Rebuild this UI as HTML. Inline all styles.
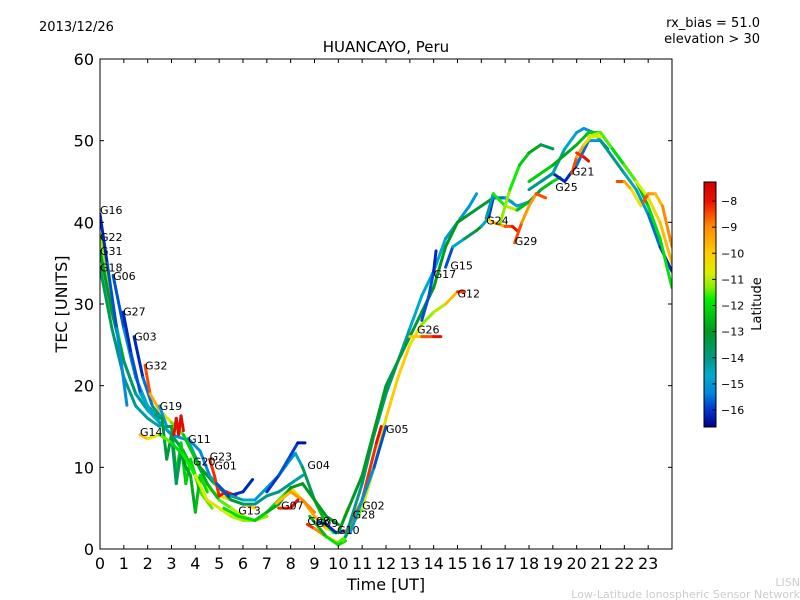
<!DOCTYPE html>
<html><head><meta charset="utf-8"><style>
html,body{margin:0;padding:0;background:#fff;width:800px;height:600px;overflow:hidden}
svg{font-family:"DejaVu Sans","Liberation Sans",sans-serif}
</style></head><body>
<svg id="chart" width="800" height="600" viewBox="0 0 800 600" xmlns="http://www.w3.org/2000/svg">
<defs>
<linearGradient id="cbar" x1="0" y1="1" x2="0" y2="0">
<stop offset="0" stop-color="#000088"/><stop offset="0.07" stop-color="#0033cc"/><stop offset="0.14" stop-color="#0088dd"/><stop offset="0.21" stop-color="#00aacc"/><stop offset="0.28" stop-color="#009988"/><stop offset="0.39" stop-color="#009922"/><stop offset="0.52" stop-color="#00ee00"/><stop offset="0.57" stop-color="#88ee00"/><stop offset="0.63" stop-color="#ddee00"/><stop offset="0.71" stop-color="#ffcc00"/><stop offset="0.82" stop-color="#ff8800"/><stop offset="0.92" stop-color="#ee1100"/><stop offset="1" stop-color="#cc0000"/>
</linearGradient>
<clipPath id="pclip"><rect x="100" y="59" width="572" height="490"/></clipPath>
</defs>
<text x="39" y="31" font-size="13">2013/12/26</text>
<text x="760" y="27" font-size="13" text-anchor="end">rx_bias = 51.0</text>
<text x="760" y="43" font-size="13" text-anchor="end">elevation &gt; 30</text>
<text x="386" y="52" font-size="15" text-anchor="middle">HUANCAYO, Peru</text>
<g id="tracks" clip-path="url(#pclip)"></g>
<g id="labels"></g>
<rect x="100" y="59" width="572" height="490" fill="none" stroke="#000" stroke-width="1"/>
<g id="axes"></g>
<text x="386" y="590" font-size="16" text-anchor="middle">Time [UT]</text>
<text transform="translate(67,304) rotate(-90)" font-size="16" text-anchor="middle">TEC [UNITS]</text>
<rect x="704" y="182" width="12" height="245" fill="url(#cbar)" stroke="#000" stroke-width="1"/>
<g id="cbticks"></g>
<text transform="translate(761,304) rotate(-90)" font-size="13" text-anchor="middle">Latitude</text>
<text x="800" y="586" font-size="11" fill="#cccccc" text-anchor="end">LISN</text>
<text x="800" y="598" font-size="11" fill="#cccccc" text-anchor="end">Low-Latitude Ionospheric Sensor Network</text>
</svg>
<script>
const xTicks=[0,1,2,3,4,5,6,7,8,9,10,11,12,13,14,15,16,17,18,19,20,21,22,23];
const yTicks=[0,10,20,30,40,50,60];
const cbTicks=[-8,-9,-10,-11,-12,-13,-14,-15,-16];
// each track: [time UT, TEC, latitude]
const trG16=[[0,41,-16.3],[0.3,35,-16],[0.7,27,-15.5],[1.13,17.6,-15]];
const trG22=[[0,38.5,-11],[0.5,30,-11.5],[1,23,-12],[1.5,19,-12.5],[2,17,-13],[2.5,15.5,-13.5],[3,14,-14],[3.5,12,-13],[4,9,-12],[4.5,7.5,-11],[5,6.5,-10.5],[6,5.5,-10],[6.5,5,-10]];
const trG31=[[0,36.5,-13],[0.5,29,-13],[1,23,-13.5],[1.5,19,-14],[2,17,-14.5],[2.5,15.5,-15],[3,14,-15],[3.7,13.3,-15],[4.2,10,-14],[4.8,8,-12],[5.5,6.5,-11.5],[6,6,-11]];
const trG18=[[0,34.5,-13.5],[0.5,27,-13.5],[1,21,-14],[1.5,17.5,-14],[2,16,-14.5],[2.5,15,-14]];
const trG06=[[0.55,33.5,-16],[1,27,-15.5],[1.5,21,-15],[2,17.5,-14.5],[2.5,16,-13.5]];
const trG27=[[0.97,29,-16.3],[1.3,24,-16],[1.7,19,-15.5],[2.2,16.5,-14]];
const trG03=[[1.43,26,-16.3],[1.8,21,-16],[2.2,17.5,-15],[2.6,16,-13]];
const trG32=[[1.89,22.5,-8],[2.1,19,-9],[2.5,17,-10],[3,15.5,-11],[3.5,14,-12],[4,11,-12.5],[4.5,8,-13],[5,6,-12],[5.5,5,-11],[6,4,-11],[6.5,3.5,-11],[7,4,-11.5]];
const trG19=[[2.5,17.5,-16],[2.8,15,-14],[3,15,-13],[3.2,9,-12.5],[3.4,13,-12],[3.6,8,-12.5],[3.8,11,-12],[4.2,7,-12],[4.7,5,-11]];
const trJag=[[2.6,16,-13],[2.8,11,-13.5],[3,14,-13],[3.2,8,-14],[3.4,12,-13],[3.6,10,-13],[3.8,9,-12.5],[4,4.5,-13],[4.2,9,-12],[4.5,7,-12]];
const trRed=[[3.1,14,-8],[3.2,16,-7.6],[3.3,14,-8],[3.4,16.3,-7.5],[3.5,14.5,-8]];
const trG14=[[1.68,14,-9.5],[2,13.5,-10],[2.5,14,-11],[3,13,-12],[3.5,11.5,-12],[4,9,-11.5],[4.5,6,-10],[5,5,-10.5],[5.5,4,-11],[6,3.5,-11],[6.5,3.5,-11.5],[7,4.5,-12],[7.5,6,-12],[8,7.5,-11],[8.5,6,-10],[9,4,-9],[9.5,2.5,-10],[10,2,-11],[10.4,5,-10.5]];
const trG11=[[3.7,13.5,-15],[4.2,12,-15.5],[4.6,9,-15],[5,7.5,-14],[5.5,6,-13],[6,5.5,-13.5],[6.5,5.5,-14],[7,6.5,-14],[7.5,7,-14],[8,8,-14],[8.5,9,-14.5]];
const trG23=[[4.6,11,-8],[4.8,9,-8.5],[5,6.5,-8],[5.3,7,-8],[5.7,6.5,-8]];
const trG01=[[4.9,8,-15.5],[5.4,6.5,-16],[6,7,-16],[6.4,8.5,-16.3]];
const trG04=[[5.5,6.5,-14],[6,6,-14.5],[6.5,6,-15],[7,7.5,-15],[7.5,9,-15],[8,11,-15],[8.2,11.7,-15],[8.5,10,-14],[9,6,-13],[9.5,3,-12],[9.8,2,-11.5]];
const trPeak=[[7,7,-16],[7.5,9,-16],[8,11.5,-15.5],[8.3,13,-16.3],[8.6,13,-16.5]];
const trG13=[[5.2,5,-12],[5.8,4,-12],[6.5,3.5,-12],[7,4.5,-12.5],[7.5,5.5,-13],[8,7.5,-13],[8.5,8,-13],[9,6,-13],[9.5,4,-13],[10,3,-13]];
const trG07=[[7.4,5.6,-10],[8,7,-9.5],[8.5,6,-9],[9,4.5,-9]];
const trG07r=[[7.5,5,-8.5],[8,5,-8],[8.3,6,-8]];
const trG08=[[8.7,3,-8],[9,2.5,-8.5],[9.5,1.5,-9.5],[10,0.8,-11],[10.3,1.5,-12]];
const trG09=[[9.2,3.3,-16],[9.5,3,-16],[9.9,2,-16.3],[10.2,2.2,-16]];
const trLow=[[8.8,4,-13],[9.5,1.5,-12],[10,0.5,-12],[10.3,1,-12]];
const trG02=[[10.2,1,-12],[11,5,-11],[11.5,10,-10.5],[12,16,-10],[12.5,21,-10],[13,25,-10],[13.5,27.5,-11],[14,29,-11.5],[14.5,30,-10.5],[15,31.5,-9],[15.3,31.5,-7.7]];
const trG28=[[10.3,2,-9],[11,6,-8.5],[11.6,13,-8],[11.8,15,-7.7]];
const trG05=[[10.5,2,-15],[11,6,-15],[11.5,10,-15.5],[12,15,-16]];
const trG17=[[10.3,1.5,-14],[11,8,-14],[11.5,14,-14],[12,19,-13.5],[12.5,23,-14],[13,27,-14.5],[13.5,31,-15],[14,34,-14.5],[14.5,38,-15],[15,40,-15],[15.5,42,-15],[15.8,43.5,-15]];
const trG15=[[10,2,-13],[11,9,-13],[12,20,-13],[13,26,-13.5],[13.5,29,-13],[14,32,-13],[14.5,37,-13],[15,40,-13],[15.5,41,-13],[16,42,-13.5],[16.5,43,-13],[17,43,-12],[17.3,42.5,-11]];
const trG15b=[[14.5,34.5,-16],[14.8,37,-15.5],[15.3,38,-14],[15.8,39,-13],[16,39.5,-13],[16.3,40.5,-16],[16.5,43,-16],[17,43,-15],[17.5,42,-15],[18,42.5,-14]];
const trG26=[[13,26,-11],[13.5,26,-9],[14,26,-8],[14.3,26,-7.8]];
const trG17b=[[13.5,28,-16],[13.8,31,-15.5],[14,34,-16],[14.1,36.5,-16.3]];
const trG24=[[16.2,40.5,-10],[16.5,40,-10],[17,39.5,-9],[17.3,39.5,-8],[17.5,39,-8]];
const trG24b=[[16.2,40.5,-16],[16.5,43.5,-12.5],[17,42,-11],[17.5,41.5,-11],[18,42.5,-14],[18.5,44,-13],[19,45,-12],[19.3,45.5,-12]];
const trG29=[[17.4,37.5,-8],[17.7,40,-9],[18,42,-9.5],[18.3,43.5,-9],[18.7,43,-8]];
const trUp=[[16.8,40,-11],[17.2,44,-11.5],[17.6,47,-12],[18,48.5,-12.5],[18.5,49.5,-13],[19,49,-14]];
const trG25=[[18.5,45,-15],[19,46,-16],[19.5,45,-16.3],[20,47,-16],[20.5,50,-15],[21,50,-15],[21.3,49,-16.3]];
const trG21=[[19.8,46,-8],[20,48,-9],[20.3,49.5,-10],[20.6,50.5,-10.5],[21,50.5,-11]];
const trG21r=[[20,48.5,-8.5],[20.3,48,-8],[20.5,47.5,-7.6]];
const trTeal=[[18,44,-14],[18.5,45,-14],[19,46,-14],[19.5,49,-14.5],[20,51,-15],[20.3,51.5,-15],[20.7,51,-15],[21,50,-14],[21.5,48,-14],[22,46,-14],[22.5,44,-15],[23,41,-15],[23.5,37,-16],[24,34,-16.3]];
const trGreen=[[18,45,-12],[19,47,-12.5],[20,49.5,-13],[20.5,51,-12],[21,51,-12.5],[21.5,49,-13],[22,47,-13.5],[22.5,45,-13],[23,42,-12],[23.5,38,-12],[24,32,-12]];
const trYG=[[20.5,50.5,-11],[21,51,-11],[21.5,49,-12],[22,47,-12],[22.5,45,-11],[23,43,-10.5],[23.5,40,-10],[24,35,-9.5]];
const trRO=[[21.7,45,-8],[22,45,-9],[22.3,44,-10],[22.7,42,-11]];
const trOr=[[22.8,42.5,-8],[23,43.5,-9],[23.3,43.5,-9.5],[23.6,42,-10],[24,37,-8]];
const tracks=[trG18,trG22,trG31,trG16,trG06,trG27,trG03,trG32,trG19,trJag,trRed,trG14,trG11,trG23,trG01,trG04,trPeak,trG13,trG07,trG07r,trG08,trG09,trLow,trG02,trG28,trG05,trG17,trG15,trG15b,trG26,trG17b,trG24,trG24b,trG29,trUp,trG25,trTeal,trGreen,trYG,trG21,trG21r,trRO,trOr];
const labelText=["G16","G22","G31","G18","G06","G27","G03","G32","G19","G14","G11","G23","G20","G01","G13","G07","G04","G08","G09","G10","G28","G02","G05","G26","G17","G15","G12","G24","G29","G25","G21"];
const labelT=[0,0,0,0,0.55,0.97,1.43,1.89,2.5,1.68,3.7,4.6,3.9,4.8,5.8,7.6,8.7,8.7,9.05,9.95,10.6,11,12,13.3,14,14.7,15,16.2,17.4,19.1,19.8];
const labelV=[41.5,38.2,36.5,34.5,33.4,29.1,26,22.5,17.5,14.3,13.5,11.3,10.7,10.2,4.7,5.3,10.3,3.4,3.2,2.3,4.2,5.3,14.7,26.9,33.7,34.7,31.3,40.2,37.7,44.3,46.2];

const NS="http://www.w3.org/2000/svg";
const X0=100,X1=672,Y0=549,Y1=59;
function sx(t){return X0+t*(X1-X0)/24;}
function sy(v){return Y0-v*(Y0-Y1)/60;}
function cy(l){return 201+(-8-l)*(410-201)/8;}
const cstops=[[-16.65,[0,0,136]],[-16,[0,51,204]],[-15.3,[0,136,221]],[-14.7,[0,170,204]],[-14,[0,153,136]],[-13,[0,153,34]],[-11.8,[0,238,0]],[-11.3,[136,238,0]],[-10.7,[221,238,0]],[-10,[255,204,0]],[-9,[255,136,0]],[-8,[238,17,0]],[-7.27,[204,0,0]]];
function cmap(l){
  if(l<=cstops[0][0])return "rgb("+cstops[0][1]+")";
  for(let i=1;i<cstops.length;i++){
    if(l<=cstops[i][0]){const a=cstops[i-1],b=cstops[i];const f=(l-a[0])/(b[0]-a[0]);
      const c=a[1].map((v,k)=>Math.round(v+(b[1][k]-v)*f));return "rgb("+c.join(",")+")";}
  }
  return "rgb(204,0,0)";
}
const tg=document.getElementById('tracks');
tracks.forEach(tr=>{
  for(let i=1;i<tr.length;i++){
    const a=tr[i-1],b=tr[i];
    const ln=document.createElementNS(NS,'line');
    
    
    ln.setAttribute('x1',sx(a[0]));ln.setAttribute('y1',sy(a[1]));
    ln.setAttribute('x2',sx(b[0]));ln.setAttribute('y2',sy(b[1]));
    ln.setAttribute('stroke',cmap((a[2]+b[2])/2));
    ln.setAttribute('stroke-width','3');ln.setAttribute('stroke-linecap','round');
    tg.appendChild(ln);
  }
});
const lg=document.getElementById('labels');
labelText.forEach((s,i)=>{
  const t=document.createElementNS(NS,'text');
  
  
  t.setAttribute('x',sx(labelT[i]));t.setAttribute('y',sy(labelV[i])+4);
  t.setAttribute('font-size','11');t.textContent=s;lg.appendChild(t);
});
const ag=document.getElementById('axes');
function mk(tag,attrs){const e=document.createElementNS(NS,tag);for(const k in attrs)e.setAttribute(k,attrs[k]);return e;}
xTicks.forEach(v=>{
  const x=sx(v);
  const t1=mk('line',{x1:x,y1:Y0,x2:x,y2:Y0-4,stroke:'#000'});
  
  
  ag.appendChild(t1);
  const t2=mk('line',{x1:x,y1:Y1,x2:x,y2:Y1+4,stroke:'#000'});
  
  
  ag.appendChild(t2);
  const tx=mk('text',{x:x,y:569,'font-size':16,'text-anchor':'middle'});
  
  
  tx.textContent=v;ag.appendChild(tx);
});
yTicks.forEach(v=>{
  const y=sy(v);
  const t1=mk('line',{x1:X0,y1:y,x2:X0+4,y2:y,stroke:'#000'});
  
  
  ag.appendChild(t1);
  const t2=mk('line',{x1:X1,y1:y,x2:X1-4,y2:y,stroke:'#000'});
  
  
  ag.appendChild(t2);
  const tx=mk('text',{x:94,y:y+6,'font-size':16,'text-anchor':'end'});
  
  
  tx.textContent=v;ag.appendChild(tx);
});
const cg=document.getElementById('cbticks');
cbTicks.forEach(v=>{
  const y=cy(v);
  const t1=mk('line',{x1:712,y1:y,x2:716,y2:y,stroke:'#000'});
  
  
  cg.appendChild(t1);
  const tx=mk('text',{x:721,y:y+4,'font-size':11});
  
  
  tx.textContent='\u2212'+Math.abs(v);cg.appendChild(tx);
});
</script>
</body></html>
